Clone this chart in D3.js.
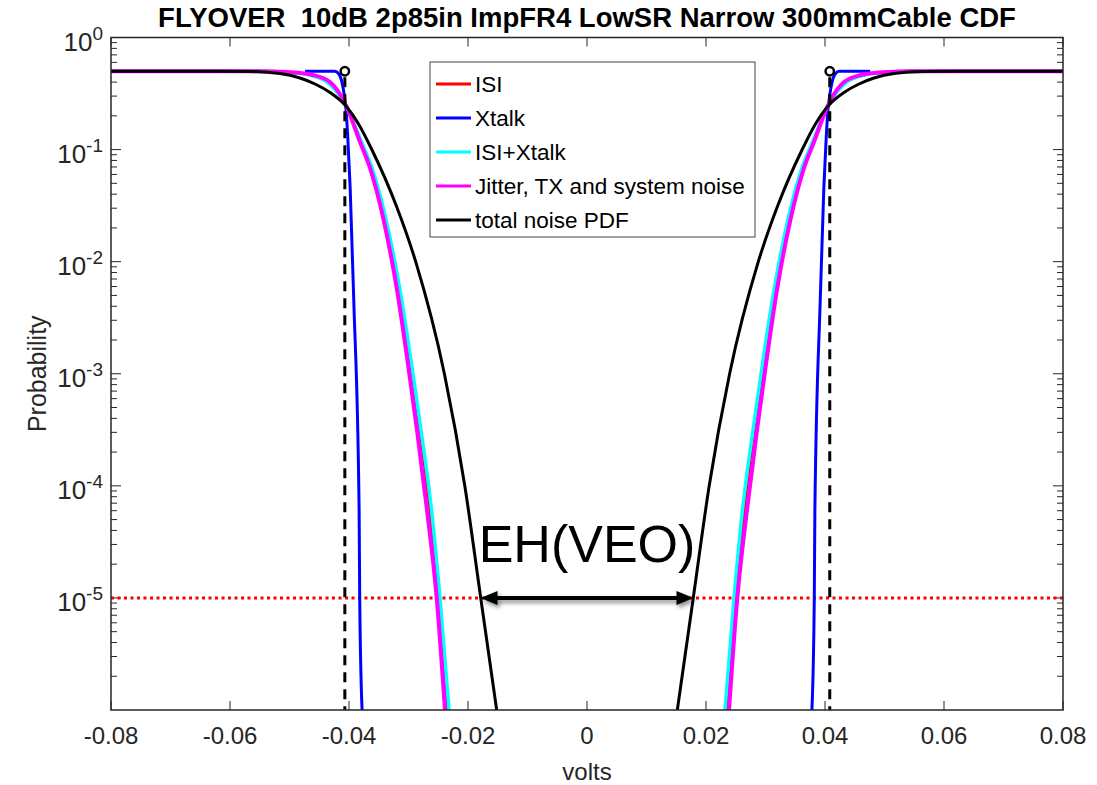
<!DOCTYPE html>
<html>
<head>
<meta charset="utf-8">
<script src="https://cdn.jsdelivr.net/npm/d3@7"></script>
<style>
  body { margin: 0; background: #fff; }
  text { font-family: "Liberation Sans", Arial, sans-serif; }
</style>
</head>
<body>
<div id="chart"></div>
<script>
//----------------------------------//
// values: [volts, probability]
var seriesNames = ["ISI", "Xtalk", "ISI+Xtalk", "Jitter, TX and system noise", "total noise PDF"];

var isiLeft = [[-0.08, 0.5], [-0.056, 0.5], [-0.0502, 0.49], [-0.04639, 0.463], [-0.04353, 0.401], [-0.04067, 0.257],
  [-0.03798, 0.117], [-0.0362, 0.0685], [-0.03395, 0.025], [-0.0316, 0.0056], [-0.02983, 0.00141],
  [-0.02807, 3.15e-4], [-0.02639, 6.1e-5], [-0.02487, 1e-5], [-0.02345, 1e-6]];
var isiRight = [[0.02345, 1e-6], [0.02487, 1e-5], [0.02639, 6.1e-5], [0.02807, 3.15e-4], [0.02983, 0.00141],
  [0.0316, 0.0056], [0.03395, 0.025], [0.0362, 0.0685], [0.03798, 0.117], [0.04067, 0.257], [0.04353, 0.401],
  [0.04639, 0.463], [0.0502, 0.49], [0.056, 0.5], [0.08, 0.5]];

var xtalkLeft = [[-0.0474, 0.5], [-0.0424, 0.5], [-0.0417, 0.4725], [-0.0412, 0.401], [-0.0408, 0.307],
  [-0.0405, 0.2256], [-0.0402, 0.127], [-0.0398, 0.045], [-0.0392, 0.00455], [-0.0383, 6.1e-5],
  [-0.0382, 1e-5], [-0.0378, 1e-6]];
var xtalkRight = [[0.0378, 1e-6], [0.0382, 1e-5], [0.0383, 6.1e-5], [0.0392, 0.00455], [0.0398, 0.045],
  [0.0402, 0.127], [0.0405, 0.2256], [0.0408, 0.307], [0.0412, 0.401], [0.0417, 0.4725], [0.0424, 0.5],
  [0.0476, 0.5]];

var isiXtalkLeft = [[-0.08, 0.5], [-0.056, 0.5], [-0.0505, 0.49], [-0.04672, 0.463], [-0.0437, 0.401],
  [-0.04067, 0.255], [-0.0379, 0.117], [-0.03613, 0.0685], [-0.03387, 0.025], [-0.03143, 0.0056],
  [-0.02966, 0.00141], [-0.0279, 3.15e-4], [-0.02613, 6.1e-5], [-0.02471, 1e-5], [-0.02319, 1e-6]];
var isiXtalkRight = [[0.02319, 1e-6], [0.02471, 1e-5], [0.02613, 6.1e-5], [0.0279, 3.15e-4], [0.02966, 0.00141],
  [0.03143, 0.0056], [0.03387, 0.025], [0.03613, 0.0685], [0.0379, 0.117], [0.04067, 0.255], [0.0437, 0.401],
  [0.04672, 0.463], [0.0505, 0.49], [0.056, 0.5], [0.08, 0.5]];

var jitterLeft = [[-0.08, 0.5], [-0.055, 0.5], [-0.0499, 0.49], [-0.04605, 0.463], [-0.0432, 0.401],
  [-0.04067, 0.26], [-0.03815, 0.117], [-0.03647, 0.0685], [-0.03429, 0.025], [-0.03193, 0.0056],
  [-0.03025, 0.00141], [-0.02857, 3.15e-4], [-0.02689, 6.1e-5], [-0.02526, 1e-5], [-0.02387, 1e-6]];
var jitterRight = [[0.02387, 1e-6], [0.02526, 1e-5], [0.02689, 6.1e-5], [0.02857, 3.15e-4], [0.03025, 0.00141],
  [0.03193, 0.0056], [0.03429, 0.025], [0.03647, 0.0685], [0.03815, 0.117], [0.04067, 0.26], [0.0432, 0.401],
  [0.04605, 0.463], [0.0499, 0.49], [0.055, 0.5], [0.08, 0.5]];

var totalLeft = [[-0.08, 0.5], [-0.063, 0.5], [-0.05664, 0.4973], [-0.0516, 0.4774], [-0.04824, 0.4351],
  [-0.04571, 0.3847], [-0.04319, 0.3231], [-0.04067, 0.25], [-0.0384, 0.1692], [-0.03613, 0.0992],
  [-0.0321, 0.03204], [-0.02879, 0.01], [-0.02397, 0.001], [-0.02054, 1e-4], [-0.01786, 1e-5], [-0.01518, 1e-6]];
var totalRight = [[0.01518, 1e-6], [0.01786, 1e-5], [0.02054, 1e-4], [0.02397, 0.001], [0.02879, 0.01],
  [0.0321, 0.03204], [0.03613, 0.0992], [0.0384, 0.1692], [0.04067, 0.25], [0.04319, 0.3231], [0.04571, 0.3847],
  [0.04824, 0.4351], [0.0516, 0.4774], [0.05664, 0.4973], [0.063, 0.5], [0.08, 0.5]];

var xTickValues = [-0.08, -0.06, -0.04, -0.02, 0, 0.02, 0.04, 0.06, 0.08];
var yTickExponents = [0, -1, -2, -3, -4, -5];
var berTarget = 1e-5;
var eyeEdges = [-0.0407, 0.0408];   // dashed lines + circle markers
var eyeTop = 0.5;
var ehEdges = [-0.0179, 0.0179];    // arrow ends on total noise curve
//----------------------------------//

var colors = ["#ff0000", "#0000ff", "#00ffff", "#ff00ff", "#000000"];
var widths = [3, 3, 3.5, 4, 3];
var branches = [[isiLeft, isiRight], [xtalkLeft, xtalkRight], [isiXtalkLeft, isiXtalkRight],
  [jitterLeft, jitterRight], [totalLeft, totalRight]];

var svgWidth = 1097;
var svgHeight = 785;
var margin = { top: 37.5, right: 34, bottom: 75, left: 111 };
var width = svgWidth - margin.left - margin.right;
var height = svgHeight - margin.top - margin.bottom;
var axisColor = "#262626";

var svg = d3.select("#chart").append("svg")
  .attr("width", svgWidth)
  .attr("height", svgHeight);

var defs = svg.append("defs");
defs.append("clipPath").attr("id", "plotClip")
  .append("rect").attr("width", width).attr("height", height);
var shadow = defs.append("filter").attr("id", "shadow")
  .attr("x", "-20%").attr("y", "-100%").attr("width", "140%").attr("height", "300%");
shadow.append("feDropShadow")
  .attr("dx", 2).attr("dy", 3).attr("stdDeviation", 2)
  .attr("flood-color", "#000").attr("flood-opacity", 0.45);

var chartGroup = svg.append("g")
  .attr("transform", `translate(${margin.left}, ${margin.top})`);

var x = d3.scaleLinear().domain([-0.08, 0.08]).range([0, width]);
var y = d3.scaleLog().domain([1e-6, 1]).range([height, 0]);

// minor / major y ticks on both sides
var yMinor = [];
for (var e = -6; e < 0; e++) {
  for (var m = 2; m <= 9; m++) yMinor.push(m * Math.pow(10, e));
}
var yMajor = yTickExponents.map(k => Math.pow(10, k));

var tickG = chartGroup.append("g").attr("stroke", axisColor).attr("stroke-width", 1);
yMinor.forEach(function(v) {
  tickG.append("line").attr("x1", 0).attr("x2", 6).attr("y1", y(v)).attr("y2", y(v));
  tickG.append("line").attr("x1", width).attr("x2", width - 6).attr("y1", y(v)).attr("y2", y(v));
});
yMajor.forEach(function(v) {
  tickG.append("line").attr("x1", 0).attr("x2", 10).attr("y1", y(v)).attr("y2", y(v));
  tickG.append("line").attr("x1", width).attr("x2", width - 10).attr("y1", y(v)).attr("y2", y(v));
});
xTickValues.forEach(function(v) {
  tickG.append("line").attr("x1", x(v)).attr("x2", x(v)).attr("y1", height).attr("y2", height - 9);
  tickG.append("line").attr("x1", x(v)).attr("x2", x(v)).attr("y1", 0).attr("y2", 9);
});

// x tick labels
chartGroup.selectAll(".xlab").data(xTickValues).enter()
  .append("text")
  .attr("x", d => x(d))
  .attr("y", height + 34)
  .attr("text-anchor", "middle")
  .attr("font-size", 24)
  .attr("fill", axisColor)
  .text(d => Math.abs(d) < 1e-9 ? "0" : d.toFixed(2));

// y tick labels 10^k
yTickExponents.forEach(function(k) {
  var t = chartGroup.append("text")
    .attr("x", -8)
    .attr("y", y(Math.pow(10, k)) + 13)
    .attr("text-anchor", "end")
    .attr("fill", axisColor)
    .attr("font-size", 26);
  t.append("tspan").text("10");
  t.append("tspan").attr("dy", -11).attr("font-size", 19).text(String(k));
});

// curves
var line = d3.line()
  .x(d => x(d[0]))
  .y(d => y(d[1]))
  .curve(d3.curveMonotoneX);

var plot = chartGroup.append("g").attr("clip-path", "url(#plotClip)");

// BER target
plot.append("line")
  .attr("x1", 0).attr("x2", width)
  .attr("y1", y(berTarget)).attr("y2", y(berTarget))
  .attr("stroke", "#ff0000").attr("stroke-width", 3)
  .attr("stroke-dasharray", "3,3.5");

branches.forEach(function(pair, i) {
  pair.forEach(function(pts) {
    plot.append("path")
      .datum(pts)
      .attr("d", line)
      .attr("fill", "none")
      .attr("stroke", colors[i])
      .attr("stroke-width", widths[i])
      .attr("stroke-linejoin", "round");
  });
});

// eye edges
eyeEdges.forEach(function(v) {
  plot.append("line")
    .attr("x1", x(v)).attr("x2", x(v))
    .attr("y1", y(eyeTop) + 6).attr("y2", height)
    .attr("stroke", "#000").attr("stroke-width", 3)
    .attr("stroke-dasharray", "10,7");
  plot.append("circle")
    .attr("cx", x(v)).attr("cy", y(eyeTop))
    .attr("r", 4.2)
    .attr("fill", "none").attr("stroke", "#000").attr("stroke-width", 2.5);
});

// EH arrow
var arrowG = chartGroup.append("g").attr("filter", "url(#shadow)");
var ay = y(berTarget);
var xl = x(ehEdges[0]), xr = x(ehEdges[1]);
arrowG.append("line")
  .attr("x1", xl + 10).attr("x2", xr - 10)
  .attr("y1", ay).attr("y2", ay)
  .attr("stroke", "#000").attr("stroke-width", 4);
arrowG.append("path")
  .attr("d", `M${xl},${ay} L${xl + 17},${ay - 7} L${xl + 17},${ay + 7} Z`)
  .attr("fill", "#000");
arrowG.append("path")
  .attr("d", `M${xr},${ay} L${xr - 17},${ay - 7} L${xr - 17},${ay + 7} Z`)
  .attr("fill", "#000");

chartGroup.append("text")
  .attr("x", x(0))
  .attr("y", ay - 36)
  .attr("text-anchor", "middle")
  .attr("font-family", "'Open Sans', sans-serif")
  .attr("font-size", 52)
  .attr("fill", "#000")
  .text("EH(VEO)");

// box
chartGroup.append("rect")
  .attr("width", width).attr("height", height)
  .attr("fill", "none")
  .attr("stroke", axisColor).attr("stroke-width", 1.5);

// legend
var legend = svg.append("g").attr("transform", "translate(430, 62)");
legend.append("rect")
  .attr("width", 325).attr("height", 175)
  .attr("fill", "#fff").attr("stroke", "#444").attr("stroke-width", 1);
seriesNames.forEach(function(name, i) {
  var cy = 22 + i * 34;
  legend.append("line")
    .attr("x1", 6).attr("x2", 41).attr("y1", cy).attr("y2", cy)
    .attr("stroke", colors[i]).attr("stroke-width", 3);
  legend.append("text")
    .attr("x", 45).attr("y", cy + 7.5)
    .attr("font-size", 22.5)
    .attr("fill", "#000")
    .text(name);
});

// title and axis labels
svg.append("text")
  .attr("x", margin.left + width / 2)
  .attr("y", 27)
  .attr("text-anchor", "middle")
  .attr("font-size", 27.5)
  .attr("font-weight", "bold")
  .attr("fill", "#000")
  .text("FLYOVER  10dB 2p85in ImpFR4 LowSR Narrow 300mmCable CDF")
  .style("white-space", "pre");

svg.append("text")
  .attr("x", margin.left + width / 2)
  .attr("y", 780)
  .attr("text-anchor", "middle")
  .attr("font-size", 24)
  .attr("fill", axisColor)
  .text("volts");

svg.append("text")
  .attr("transform", `translate(46, ${margin.top + height / 2}) rotate(-90)`)
  .attr("text-anchor", "middle")
  .attr("font-size", 25)
  .attr("fill", axisColor)
  .text("Probability");
</script>
</body>
</html>
